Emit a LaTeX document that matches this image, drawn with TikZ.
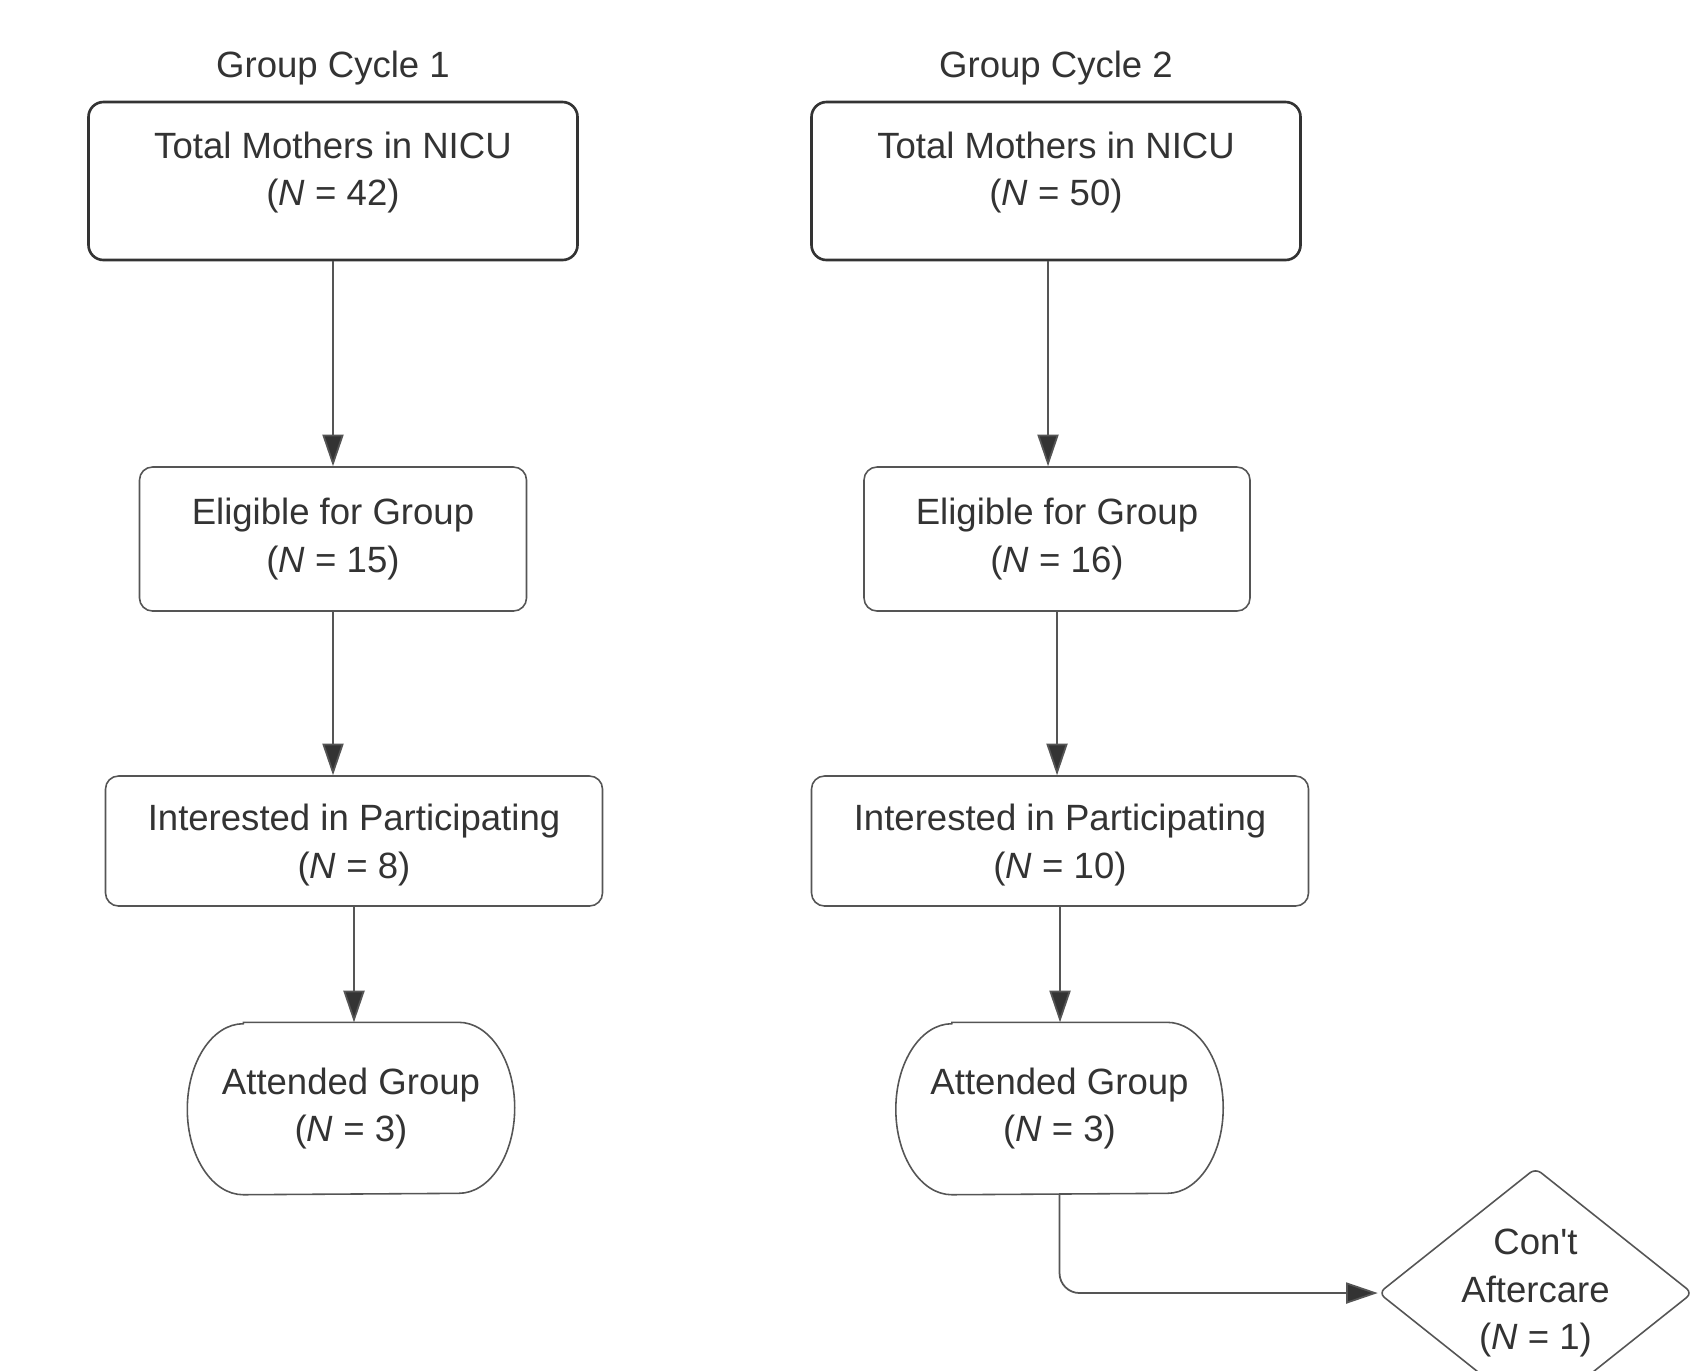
\documentclass[tikz,border=0pt]{standalone}
\usepackage{fontspec}
\setmainfont{Liberation Sans}
\usetikzlibrary{arrows.meta,shapes.geometric}

\definecolor{inkgray}{HTML}{333333}
\definecolor{linegray}{HTML}{555555}

% outline of an end box: straight top and bottom, oval ends
\newcommand{\ovalrim}[1]{%
  \draw[linegray,line width=0.45pt] ([xshift=0.56cm]#1.north west) -- ([xshift=-0.56cm]#1.north east)
    arc[start angle=90,end angle=-90,x radius=0.56cm,y radius=0.855cm]
    -- ([xshift=0.56cm]#1.south west)
    arc[start angle=270,end angle=90,x radius=0.56cm,y radius=0.855cm] -- cycle;}

\begin{document}
\begin{tikzpicture}[y=-1cm,font=\fontsize{10.4}{13.6}\selectfont,text=inkgray,
  topbox/.style={draw=inkgray,line width=0.75pt,rounded corners=0.15cm,align=center,
    minimum width=4.89cm,minimum height=1.58cm,text depth=7pt},
  stepbox/.style={draw=linegray,line width=0.45pt,rounded corners=0.13cm,align=center},
  endbox/.style={align=center,minimum width=3.26cm,minimum height=1.71cm},
  choice/.style={diamond,aspect=1.26,draw=linegray,line width=0.45pt,rounded corners=2pt,align=center,
    inner sep=0pt,minimum width=3.14cm,minimum height=2.5cm},
  flow/.style={draw=linegray,line width=0.5pt,-{Triangle[length=9pt,width=6pt,fill=inkgray]}}]
  \useasboundingbox (0,0) rectangle (17.04,13.70);
  \clip (0,0) rectangle (17.04,13.70);
  \fill[white] (0,0) rectangle (17.04,13.70);
  % column headings
  \foreach \n/\x in {1/3.33,2/10.56} \node (t\n) at (\x,0.68) {Group Cycle \n};
  % cycle 1
  \node[topbox] (a1) at (3.33,1.81) {Total Mothers in NICU\\(\textit{N} = 42)};
  \node[stepbox,minimum width=3.87cm,minimum height=1.44cm] (b1) at (3.33,5.39) {Eligible for Group\\(\textit{N} = 15)};
  \node[stepbox,minimum width=4.97cm,minimum height=1.30cm,text depth=0pt] (c1) at (3.54,8.41) {Interested in Participating\\(\textit{N} = 8)};
  \node[endbox] (d1) at (3.51,11.085) {Attended Group\\(\textit{N} = 3)};
  \ovalrim{d1}
  % cycle 2
  \node[topbox] (a2) at (10.56,1.81) {Total Mothers in NICU\\(\textit{N} = 50)};
  \node[stepbox,minimum width=3.86cm,minimum height=1.44cm] (b2) at (10.57,5.39) {Eligible for Group\\(\textit{N} = 16)};
  \node[stepbox,minimum width=4.97cm,minimum height=1.30cm,text depth=0pt] (c2) at (10.60,8.41) {Interested in Participating\\(\textit{N} = 10)};
  \node[endbox] (d2) at (10.595,11.085) {Attended Group\\(\textit{N} = 3)};
  \ovalrim{d2}
  \node[choice] (e2) at (15.355,12.93) {Con\textquotesingle t\\Aftercare\\(\textit{N} = 1)};
  % arrows
  \coordinate (s2) at ([xshift=-0.08cm]a2.south);
  \draw[flow] (a1.south) -- (a1.south |- b1.north);
  \draw[flow] (s2) -- (s2 |- b2.north);
  \foreach \n in {1,2} {
    \draw[flow] (b\n.south) -- (b\n.south |- c\n.north);
    \draw[flow] (c\n.south) -- (c\n.south |- d\n.north);
  }
  \draw[flow,rounded corners=0.2cm] (d2.south) |- (e2.west);
\end{tikzpicture}
\end{document}
